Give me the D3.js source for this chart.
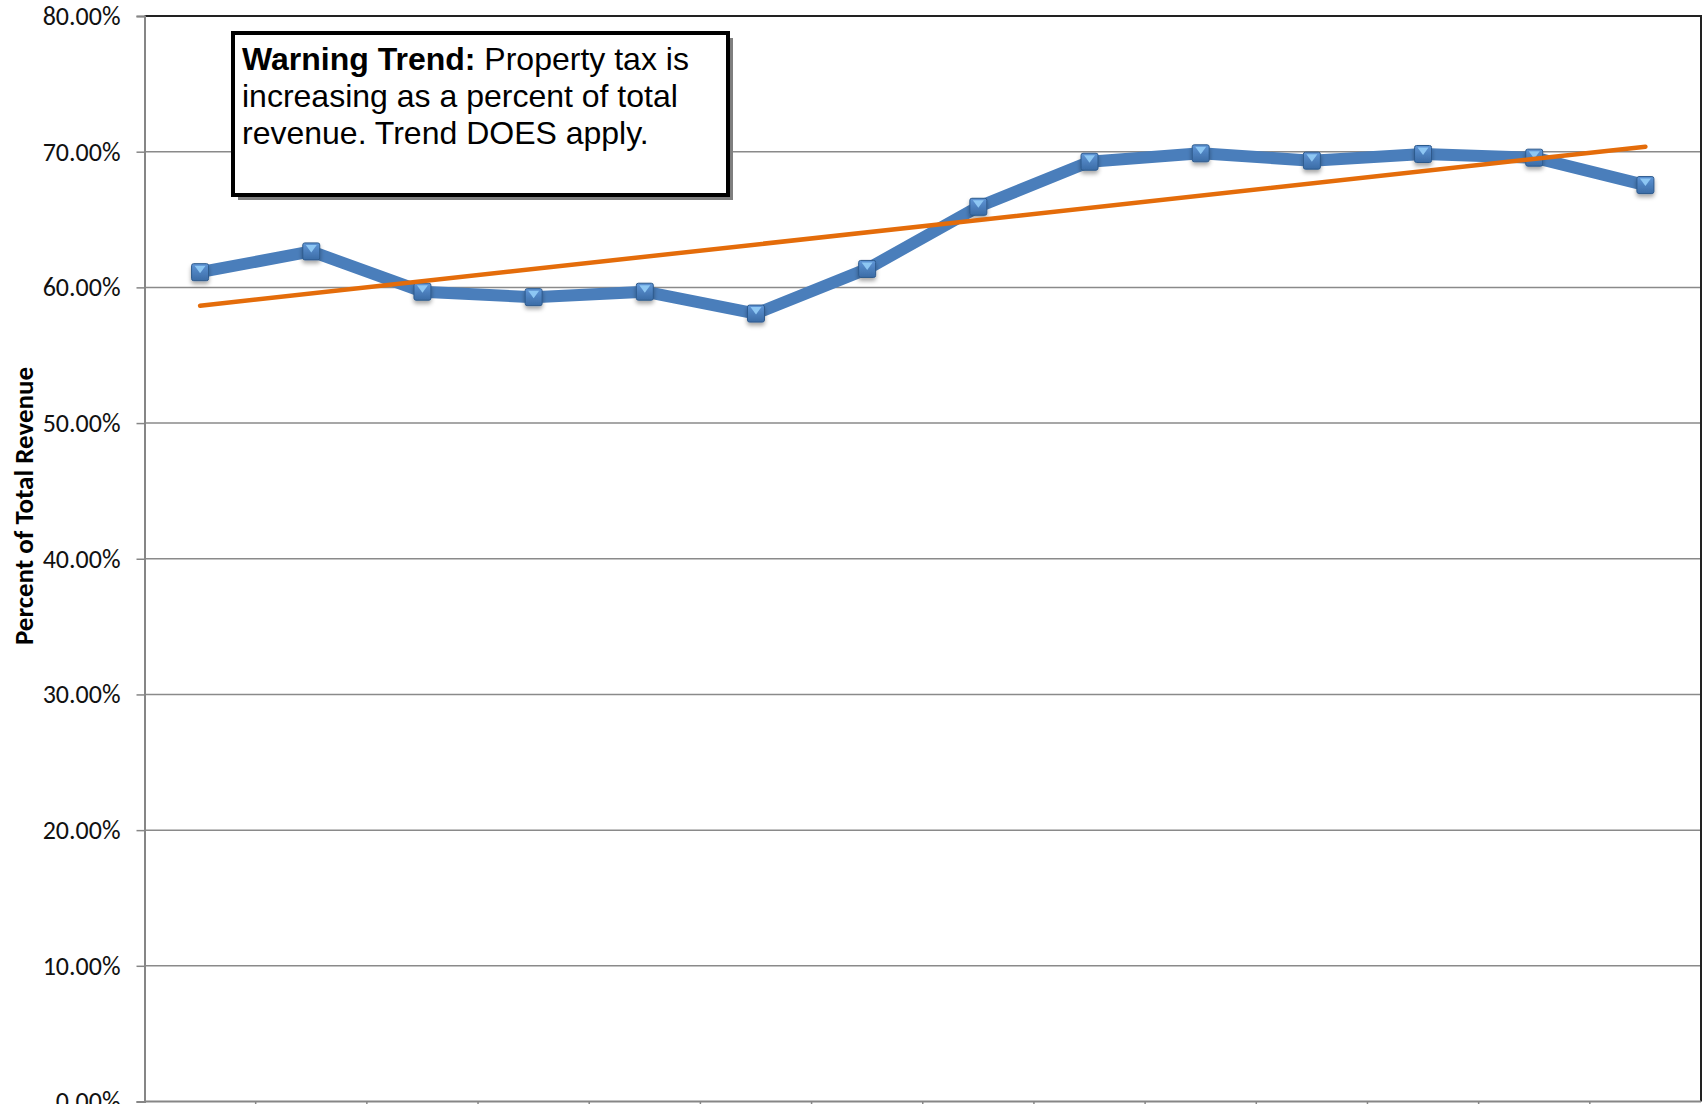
<!DOCTYPE html>
<html>
<head>
<meta charset="utf-8">
<script src="https://cdn.jsdelivr.net/npm/d3@7"></script>
<style>
  body { margin: 0; background: #fff; }
  svg { display: block; }
</style>
</head>
<body>
<div class="chart"></div>
<script>
// categories (x labels are cut off in the reference, so they stay hidden)
const periods = ["1","2","3","4","5","6","7","8","9","10","11","12","13","14"];
// property tax as percent of total revenue
const propertyTaxPct = [61.12, 62.65, 59.68, 59.28, 59.68, 58.07, 61.36, 65.94, 69.26, 69.88, 69.34, 69.83, 69.56, 67.54];
// linear trend line, value at first and last period
const trendEnds = [58.65, 70.37];
const yTicks = [0, 10, 20, 30, 40, 50, 60, 70, 80];
const noteBold = "Warning Trend:";
const noteLines = [" Property tax is", "increasing as a percent of total", "revenue. Trend DOES apply."];
const yTitle = "Percent of Total Revenue";

function drawChart(){
  let W = 1708, H = 1104;
  let margin = {top:16, right:7, bottom:2.5, left:144.5};
  let width = W - margin.left - margin.right;
  let height = H - margin.top - margin.bottom;

  const svg = d3.select(".chart")
    .append("svg")
    .attr("width", W)
    .attr("height", H);

  const defs = svg.append("defs");
  let shadow = defs.append("filter").attr("id","mshadow")
    .attr("x","-50%").attr("y","-50%").attr("width","200%").attr("height","220%");
  shadow.append("feDropShadow").attr("dx",0).attr("dy",3).attr("stdDeviation",2)
    .attr("flood-color","#000").attr("flood-opacity",0.35);
  let grad = defs.append("linearGradient").attr("id","mgrad")
    .attr("x1",0).attr("y1",0).attr("x2",0).attr("y2",1);
  grad.append("stop").attr("offset","0%").attr("stop-color","#5f95d6");
  grad.append("stop").attr("offset","100%").attr("stop-color","#3b6ca6");

  let g = svg.append("g")
    .attr("transform","translate(" + margin.left + "," + margin.top + ")");

  let x = d3.scaleBand()
    .domain(periods)
    .range([0, width])
    .padding(0);

  let y = d3.scaleLinear()
    .domain([0, 80])
    .range([height, 0]);

  let cx = d => x(d) + x.bandwidth()/2;

  // horizontal gridlines
  g.append("g").selectAll(null)
    .data(yTicks.filter(t => t > 0 && t < 80))
    .enter().append("line")
    .attr("x1", 0).attr("x2", width)
    .attr("y1", d => y(d)).attr("y2", d => y(d))
    .attr("stroke", "#8a8a8a")
    .attr("stroke-width", 1.5);

  // plot border top and right (dark)
  g.append("path")
    .attr("d", "M0," + y(80) + "H" + width + "V" + height)
    .attr("fill","none")
    .attr("stroke","#222")
    .attr("stroke-width",2);

  // y axis
  let leftAxis = d3.axisLeft(y)
    .tickValues(yTicks)
    .tickSize(8)
    .tickPadding(16)
    .tickFormat(d => d.toFixed(2) + "%");
  let ya = g.append("g").attr("class","left axis").call(leftAxis);
  ya.select(".domain").attr("stroke","#868686").attr("stroke-width",2);
  ya.selectAll(".tick line").attr("stroke","#868686").attr("stroke-width",1.5);
  ya.selectAll(".tick text")
    .attr("font-family","Carlito, 'Open Sans', sans-serif")
    .attr("font-size","26px")
    .attr("fill","#111");

  // x axis, ticks between categories
  let xa = g.append("g").attr("class","x axis")
    .attr("transform","translate(0," + height + ")");
  xa.append("line").attr("x1",0).attr("x2",width)
    .attr("stroke","#868686").attr("stroke-width",2);
  xa.selectAll(null)
    .data(periods.slice(1))
    .enter().append("line")
    .attr("x1", d => x(d)).attr("x2", d => x(d))
    .attr("y1", 0).attr("y2", 8)
    .attr("stroke","#868686").attr("stroke-width",1.5);

  // y title
  g.append("text")
    .attr("transform","translate(" + (24 - margin.left) + "," + (506 - margin.top) + ") rotate(-90)")
    .attr("text-anchor","middle")
    .attr("dy","0.35em")
    .attr("font-family","Carlito, 'Open Sans', sans-serif")
    .attr("font-weight","bold")
    .attr("font-size","27px")
    .attr("fill","#000")
    .text(yTitle);

  // data line
  let line = d3.line()
    .x((d,i) => cx(periods[i]))
    .y(d => y(d));
  g.append("path")
    .datum(propertyTaxPct)
    .attr("d", line)
    .attr("fill","none")
    .attr("stroke","#4a7ebb")
    .attr("stroke-width",12)
    .attr("stroke-linejoin","round");

  // markers
  let ms = 17;
  let mk = g.selectAll(null)
    .data(propertyTaxPct)
    .enter().append("g")
    .attr("transform",(d,i) => "translate(" + cx(periods[i]) + "," + y(d) + ")");
  mk.append("rect")
    .attr("x",-ms/2).attr("y",-ms/2)
    .attr("width",ms).attr("height",ms)
    .attr("rx",2)
    .attr("fill","url(#mgrad)")
    .attr("stroke","#2d5a8c")
    .attr("stroke-width",1)
    .attr("filter","url(#mshadow)");
  mk.append("path")
    .attr("d","M" + (-ms/2+3) + "," + (-ms/2+2) + "L" + (ms/2-3) + "," + (-ms/2+2) + "L0," + 1 + "Z")
    .attr("fill","#93cdf7")
    .attr("opacity",0.9);

  // trend line
  let tfirst = periods[0], tlast = periods[periods.length-1];
  g.append("line")
    .attr("x1", cx(tfirst)).attr("y1", y(trendEnds[0]))
    .attr("x2", cx(tlast)).attr("y2", y(trendEnds[1]))
    .attr("stroke","#e46c0a")
    .attr("stroke-width",4.5)
    .attr("stroke-linecap","round");

  // annotation box
  let box = svg.append("g");
  box.append("rect")
    .attr("x",238).attr("y",38).attr("width",495).attr("height",162)
    .attr("fill","#7f7f7f");
  box.append("rect")
    .attr("x",233).attr("y",33).attr("width",495).attr("height",162)
    .attr("fill","#fff")
    .attr("stroke","#000")
    .attr("stroke-width",4);
  let t = box.append("text")
    .attr("font-family","'Liberation Sans', Arial, sans-serif")
    .attr("font-size","32px")
    .attr("fill","#000");
  let first = t.append("tspan").attr("x",242).attr("y",70);
  first.append("tspan").attr("font-weight","bold").text(noteBold);
  first.append("tspan").text(noteLines[0]);
  t.append("tspan").attr("x",242).attr("y",107).text(noteLines[1]);
  t.append("tspan").attr("x",242).attr("y",144).text(noteLines[2]);
}

drawChart();
</script>
</body>
</html>
